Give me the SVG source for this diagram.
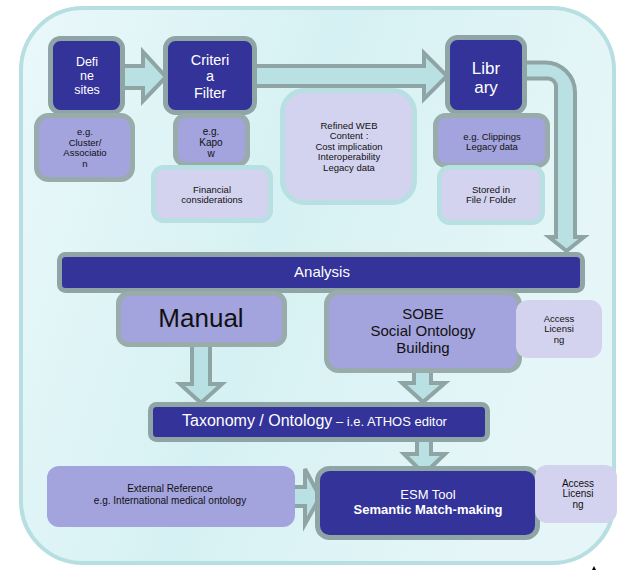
<svg xmlns="http://www.w3.org/2000/svg" width="617" height="570" viewBox="0 0 617 570">
<defs>
<linearGradient id="bg" x1="0" y1="0" x2="1" y2="0.3">
<stop offset="0" stop-color="#eaf8fa"/>
<stop offset="0.5" stop-color="#d6f1f3"/>
<stop offset="1" stop-color="#e6f6f8"/>
</linearGradient>
<style>
.dark{fill:#333399;stroke:#8fa4a4;stroke-width:5}
.mid{fill:#a3a3dd;stroke:#9aabab;stroke-width:5}
.lite{fill:#d4d3ef;stroke:#b8dfe2;stroke-width:5}
.plain-mid{fill:#a3a3dd}
.plain-lite{fill:#d4d3ef}
.arr{fill:#b9e1e3;stroke:#8fa4a4;stroke-width:4;stroke-linejoin:miter}
text{font-family:"Liberation Sans",Arial,sans-serif;text-anchor:middle}
.w{fill:#ffffff}
.k{fill:#111111}
.s10{font-size:9.5px}
</style>
</defs>
<rect x="21" y="8" width="593" height="555" rx="62" fill="url(#bg)" stroke="#b7dfe2" stroke-width="4"/>
<g id="connectors">
<polygon class="arr" points="118,66 143,66 143,52 166,77 143,101 143,88 118,88"/>
<polygon class="arr" points="252,66 424,66 424,53 447,76 424,99 424,86 252,86"/>
<path class="arr" d="M522,62.5 H545 A30,30 0 0 1 575,92.5 V237 H584 L566.5,251 L549,237 H556 V86.5 A8,8 0 0 0 548,78.5 H522 Z"/>
<polygon class="arr" points="192,345 210,345 210,384 222,384 201,403 180,384 192,384"/>
<polygon class="arr" points="414,370 431,370 431,383 445,383 423,402 402,383 414,383"/>
<polygon class="arr" points="417,440 431,440 431,454 445,454 424,474 404,454 417,454"/>
<polygon class="arr" points="290,487 305,487 305,469 320,497 305,524 305,506 290,506"/>
</g>
<g id="define-sites">
<rect class="dark" x="50.5" y="38.5" width="72" height="74" rx="10"/>
<text class="w" font-size="12.5"><tspan x="87" y="66">Defi</tspan><tspan x="87" y="80">ne</tspan><tspan x="87" y="94">sites</tspan></text>
</g>
<g id="criteria-filter">
<rect class="dark" x="165.5" y="38.5" width="89" height="74" rx="10"/>
<text class="w" font-size="14.5"><tspan x="210" y="64.5">Criteri</tspan><tspan x="210" y="81">a</tspan><tspan x="210" y="97.5">Filter</tspan></text>
</g>
<g id="library">
<rect class="dark" x="447.5" y="37.5" width="77" height="75" rx="10"/>
<text class="w" font-size="17"><tspan x="486" y="74">Libr</tspan><tspan x="486" y="92.5">ary</tspan></text>
</g>
<g id="cluster">
<rect class="mid" x="36.5" y="115.5" width="96" height="64" rx="12"/>
<text class="k s10"><tspan x="85" y="135">e.g.</tspan><tspan x="85" y="145.5">Cluster/</tspan><tspan x="85" y="156">Associatio</tspan><tspan x="85" y="166.5">n</tspan></text>
</g>
<g id="kapow">
<rect class="mid" x="175.5" y="115.5" width="72" height="49" rx="10"/>
<text class="k" font-size="10"><tspan x="211" y="135">e.g.</tspan><tspan x="211" y="146">Kapo</tspan><tspan x="211" y="157">w</tspan></text>
</g>
<g id="financial">
<rect class="lite" x="153.5" y="167.5" width="117" height="53" rx="10"/>
<text class="k s10"><tspan x="212" y="192.5">Financial</tspan><tspan x="212" y="203">considerations</tspan></text>
</g>
<g id="refined-web">
<rect class="lite" x="282.5" y="90.5" width="132" height="112" rx="22"/>
<text class="k s10"><tspan x="349" y="128.5">Refined WEB</tspan><tspan x="349" y="139">Content :</tspan><tspan x="349" y="149.5">Cost implication</tspan><tspan x="349" y="160">Interoperability</tspan><tspan x="349" y="170.5">Legacy data</tspan></text>
</g>
<g id="clippings">
<rect class="mid" x="435.5" y="115.5" width="112" height="50" rx="10"/>
<text class="k s10"><tspan x="492" y="139.5">e.g. Clippings</tspan><tspan x="492" y="150">Legacy data</tspan></text>
</g>
<g id="stored">
<rect class="lite" x="439.5" y="167.5" width="103" height="55" rx="10"/>
<text class="k s10"><tspan x="491" y="192.5">Stored in</tspan><tspan x="491" y="203">File / Folder</tspan></text>
</g>
<g id="analysis">
<rect class="dark" x="59.5" y="254.5" width="523" height="36" rx="6" stroke="#94a8a8"/>
<text class="w" x="322" y="277" font-size="15">Analysis</text>
</g>
<g id="manual">
<rect class="mid" x="118.5" y="293.5" width="166" height="51" rx="10" stroke="#8fa4a4"/>
<text class="k" x="201" y="327" font-size="26">Manual</text>
</g>
<g id="sobe">
<rect class="mid" x="326.5" y="292.5" width="193" height="78" rx="12" stroke="#8fa4a4"/>
<text class="k" font-size="15"><tspan x="423" y="318.5">SOBE</tspan><tspan x="423" y="335.5">Social Ontology</tspan><tspan x="423" y="352.5">Building</tspan></text>
</g>
<g id="access-1">
<rect class="plain-lite" x="516" y="300" width="86" height="58" rx="12"/>
<text class="k s10"><tspan x="559" y="321.5">Access</tspan><tspan x="559" y="332">Licensi</tspan><tspan x="559" y="342.5">ng</tspan></text>
</g>
<g id="taxonomy">
<rect class="dark" x="150.5" y="404.5" width="337" height="35" rx="6"/>
<text class="w" x="182" y="426" style="text-anchor:start"><tspan font-size="16">Taxonomy / Ontology</tspan><tspan font-size="13"> – i.e. ATHOS editor</tspan></text>
</g>
<g id="external-reference">
<rect class="plain-mid" x="47" y="466" width="248" height="61" rx="12"/>
<text class="k" font-size="10"><tspan x="170" y="492">External Reference</tspan><tspan x="170" y="503.5">e.g. International medical ontology</tspan></text>
</g>
<g id="esm-tool">
<rect class="dark" x="317.5" y="468.5" width="220" height="69" rx="12"/>
<text class="w" font-size="13"><tspan x="428" y="499">ESM Tool</tspan><tspan x="428" y="514" font-weight="bold">Semantic Match-making</tspan></text>
</g>
<g id="access-2">
<rect class="plain-lite" x="535" y="465" width="82" height="58" rx="12"/>
<text class="k" font-size="10"><tspan x="578" y="486.5">Access</tspan><tspan x="578" y="497">Licensi</tspan><tspan x="578" y="507.5">ng</tspan></text>
</g>
<path d="M594,566 L596,570 L592,570 Z" fill="#000"/>
</svg>
